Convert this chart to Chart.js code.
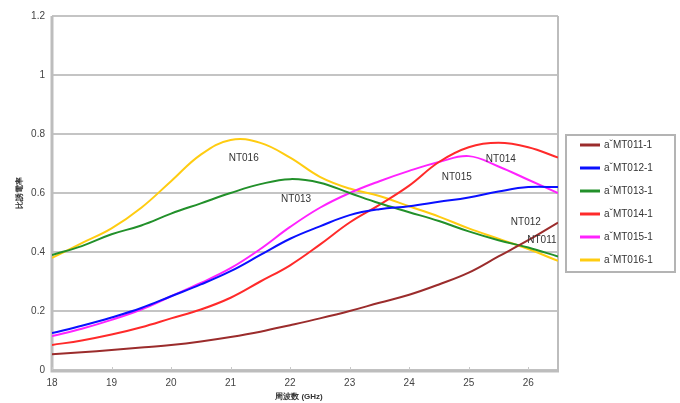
<!DOCTYPE html>
<html>
<head>
<meta charset="utf-8">
<script src="https://cdn.jsdelivr.net/npm/chart.js@4/dist/chart.umd.min.js"></script>
<style>
html,body{margin:0;padding:0;background:#fff;}
#wrap{position:relative;width:680px;height:403px;}
</style>
</head>
<body>
<div id="wrap"><canvas id="c" width="680" height="403"></canvas></div>
<script>
// ---- data ----
const freqs = [18, 18.5, 19, 19.5, 20, 20.5, 21, 21.5, 22, 22.5, 23, 23.5, 24, 24.5, 25, 25.5, 26, 26.5];
const seriesNames = ["aˇMT011-1", "aˇMT012-1", "aˇMT013-1", "aˇMT014-1", "aˇMT015-1", "aˇMT016-1"];
const nt011 = [0.053, 0.060, 0.068, 0.076, 0.085, 0.097, 0.112, 0.130, 0.152, 0.175, 0.200, 0.228, 0.255, 0.290, 0.330, 0.385, 0.440, 0.500];
const nt012 = [0.125, 0.150, 0.178, 0.210, 0.250, 0.290, 0.335, 0.390, 0.445, 0.487, 0.525, 0.545, 0.555, 0.570, 0.585, 0.605, 0.620, 0.620];
const nt013 = [0.390, 0.420, 0.460, 0.490, 0.530, 0.565, 0.600, 0.630, 0.647, 0.635, 0.600, 0.565, 0.535, 0.505, 0.470, 0.440, 0.415, 0.385];
const nt014 = [0.085, 0.100, 0.120, 0.145, 0.175, 0.205, 0.245, 0.300, 0.355, 0.425, 0.500, 0.560, 0.625, 0.705, 0.755, 0.770, 0.755, 0.720];
const nt015 = [0.115, 0.140, 0.170, 0.205, 0.250, 0.295, 0.345, 0.410, 0.485, 0.550, 0.600, 0.640, 0.675, 0.705, 0.725, 0.690, 0.645, 0.600];
const nt016 = [0.380, 0.430, 0.480, 0.550, 0.640, 0.730, 0.780, 0.770, 0.720, 0.655, 0.615, 0.590, 0.555, 0.520, 0.480, 0.445, 0.410, 0.370];
const xTicks = [18, 19, 20, 21, 22, 23, 24, 25, 26];
const yTicks = [0, 0.2, 0.4, 0.6, 0.8, 1, 1.2];
const noteTexts = ["NT016", "NT013", "NT015", "NT014", "NT012", "NT011"];
const noteX = [21.22, 22.1, 24.8, 25.54, 25.96, 26.23];
const noteY = [0.719, 0.58, 0.654, 0.715, 0.502, 0.44];
const xTitle = "周波数 (GHz)";
const yTitle = "比誘電率";

const colors = ["#9b2c2c", "#0a10ff", "#22902a", "#ff2a2a", "#ff22ff", "#ffcc11"];
const allValues = [nt011, nt012, nt013, nt014, nt015, nt016];

const datasets = allValues.map((vals, i) => ({
  label: seriesNames[i],
  data: vals.map((v, j) => ({x: freqs[j], y: v})),
  borderColor: colors[i],
  backgroundColor: colors[i],
  borderWidth: 2,
  pointRadius: 0,
  tension: 0.4,
  fill: false
}));

const FONT = "'Liberation Sans', Arial, sans-serif";

const decor = {
  id: 'decor',
  beforeDatasetsDraw(chart) {
    const {ctx, chartArea: a} = chart;
    ctx.save();
    ctx.strokeStyle = '#bdbdbd';
    ctx.lineWidth = 2;
    ctx.beginPath();
    ctx.moveTo(a.right, a.top); ctx.lineTo(a.right, a.bottom);
    ctx.stroke();
    ctx.lineWidth = 3;
    ctx.beginPath();
    ctx.moveTo(a.left, a.top); ctx.lineTo(a.left, a.bottom + 1);
    ctx.lineTo(a.right + 1, a.bottom + 1);
    ctx.stroke();
    const xs = chart.scales.x;
    ctx.strokeStyle = '#c8c8c8';
    ctx.lineWidth = 1;
    xTicks.forEach(t => {
      const px = Math.round(xs.getPixelForValue(t)) + 0.5;
      ctx.beginPath(); ctx.moveTo(px, a.bottom - 3); ctx.lineTo(px, a.bottom); ctx.stroke();
    });
    ctx.restore();
  },
  afterDatasetsDraw(chart) {
    const {ctx} = chart;
    const xs = chart.scales.x, ys = chart.scales.y;
    ctx.save();
    ctx.font = "10px " + FONT;
    ctx.fillStyle = '#333';
    ctx.textAlign = 'center';
    ctx.textBaseline = 'middle';
    noteTexts.forEach((t, i) => {
      ctx.fillText(t, xs.getPixelForValue(noteX[i]), ys.getPixelForValue(noteY[i]));
    });
    ctx.restore();
  },
  afterDraw(chart) {
    const {ctx} = chart;
    ctx.save();
    const bx = 566, by = 135, bw = 109, bh = 137;
    ctx.strokeStyle = '#b4b4b4';
    ctx.lineWidth = 2;
    ctx.strokeRect(bx, by, bw, bh);
    ctx.font = "10px " + FONT;
    ctx.textBaseline = 'middle';
    ctx.textAlign = 'left';
    chart.data.datasets.forEach((ds, i) => {
      const y = 145 + i * 23;
      ctx.strokeStyle = ds.borderColor;
      ctx.lineWidth = 3;
      ctx.beginPath(); ctx.moveTo(580, y); ctx.lineTo(600, y); ctx.stroke();
      ctx.fillStyle = '#333';
      ctx.fillText(ds.label, 604, y);
    });
    ctx.fillStyle = '#333';
    ctx.font = "bold 8px " + FONT;
    ctx.textAlign = 'center';
    const a = chart.chartArea;
    ctx.fillText(xTitle, (a.left + a.right) / 2 - 6, 397);
    ctx.translate(20, (a.top + a.bottom) / 2);
    ctx.rotate(-Math.PI / 2);
    ctx.fillText(yTitle, 0, 0);
    ctx.restore();
  }
};

new Chart(document.getElementById('c'), {
  type: 'line',
  data: {datasets},
  options: {
    responsive: false,
    animation: false,
    events: [],
    layout: {padding: {left: 0, right: 122, top: 16, bottom: 0}},
    plugins: {legend: {display: false}, tooltip: {enabled: false}},
    scales: {
      x: {
        type: 'linear',
        min: 18, max: 26.5,
        afterBuildTicks: s => { s.ticks = xTicks.map(v => ({value: v})); },
        afterFit: s => { s.height = 33; },
        grid: {display: false, drawTicks: false},
        border: {display: false},
        ticks: {color: '#444', font: {family: FONT, size: 10}, padding: 7, maxRotation: 0,
                callback: v => String(v)}
      },
      y: {
        min: 0, max: 1.2,
        afterBuildTicks: s => { s.ticks = yTicks.map(v => ({value: v})); },
        afterFit: s => { s.width = 52; },
        grid: {color: '#c4c4c4', lineWidth: 2, drawTicks: false},
        border: {display: false},
        ticks: {color: '#444', font: {family: FONT, size: 10}, padding: 7,
                callback: v => String(v)}
      }
    }
  },
  plugins: [decor]
});
</script>
</body>
</html>
